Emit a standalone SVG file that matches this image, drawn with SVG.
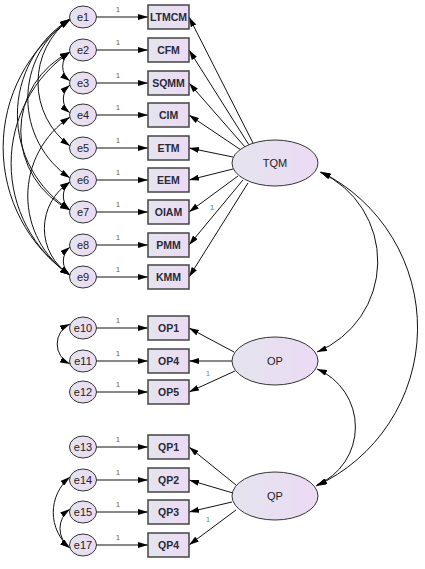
<svg xmlns="http://www.w3.org/2000/svg" width="425" height="569" viewBox="0 0 425 569">
<defs>
<linearGradient id="g" x1="0" y1="0" x2="1" y2="0"><stop offset="0" stop-color="#e4e4ee"/><stop offset="1" stop-color="#ecdaf4"/></linearGradient>
<marker id="ah" viewBox="0 0 10 6" refX="10" refY="3" markerWidth="10" markerHeight="6" markerUnits="userSpaceOnUse" orient="auto-start-reverse"><path d="M0,0 L10,3 L0,6 z" fill="#000"/></marker>
</defs>
<style>
.box{fill:url(#g);stroke:#444;stroke-width:1.5}
.err{fill:url(#g);stroke:#333;stroke-width:1}
.lat{fill:url(#g);stroke:#333;stroke-width:1}
.t{font-family:"Liberation Sans",Arial,sans-serif;font-size:10.5px;font-weight:bold;fill:#2a2a3a;text-anchor:middle}
.te{font-family:"Liberation Sans",Arial,sans-serif;font-size:11px;fill:#222;text-anchor:middle}
.tl{font-family:"Liberation Sans",Arial,sans-serif;font-size:11px;fill:#222;text-anchor:middle}
.one{font-family:"Liberation Sans",Arial,sans-serif;font-size:8px;fill:#776633;text-anchor:middle}
.ln{stroke:#111;stroke-width:1;fill:none;marker-end:url(#ah)}
.cv{stroke:#111;stroke-width:1;fill:none;marker-start:url(#ah);marker-end:url(#ah)}
</style>
<g id="connectors">
<path class="ln" d="M96 17H148"/><path class="ln" d="M96 50H148"/><path class="ln" d="M96 83H148"/>
<path class="ln" d="M96 115H148"/><path class="ln" d="M96 148H148"/><path class="ln" d="M96 180H148"/>
<path class="ln" d="M96 212H148"/><path class="ln" d="M96 245H148"/><path class="ln" d="M96 277H148"/>
<path class="ln" d="M96 328H148"/><path class="ln" d="M96 361H148"/><path class="ln" d="M96 392H148"/>
<path class="ln" d="M96 447H148"/><path class="ln" d="M96 480H148"/><path class="ln" d="M96 512H148"/><path class="ln" d="M96 545H148"/>
<path class="ln" d="M253 143L189 17"/><path class="ln" d="M249 145L189 50"/><path class="ln" d="M245 147L189 83"/>
<path class="ln" d="M241 150L189 115"/><path class="ln" d="M233 157L189 148"/><path class="ln" d="M233 169L189 180"/>
<path class="ln" d="M238 176L189 212"/><path class="ln" d="M243 180L189 245"/><path class="ln" d="M248 183L189 277"/>
<path class="ln" d="M234 352L189 328"/><path class="ln" d="M232 361L189 361"/><path class="ln" d="M235 371L189 392"/>
<path class="ln" d="M236 485L189 447"/><path class="ln" d="M233 493L189 480"/><path class="ln" d="M232 502L189 512"/><path class="ln" d="M236 510L189 545"/>
<path class="cv" d="M320 172A98 98 0 0 1 317 352"/>
<path class="cv" d="M321 172A174 174 0 0 1 316 486"/>
<path class="cv" d="M317 369A63 63 0 0 1 317 485"/>
<path class="cv" d="M70 19A79 79 0 0 0 70 146"/>
<path class="cv" d="M70 19A96 96 0 0 0 70 178"/>
<path class="cv" d="M70 19A113 113 0 0 0 70 210"/>
<path class="cv" d="M70 20A155 155 0 0 0 70 275"/>
<path class="cv" d="M70 52A135 135 0 0 0 70 275"/>
<path class="cv" d="M70 52A88 88 0 0 0 70 210"/>
<path class="cv" d="M70 117A95 95 0 0 0 70 275"/>
<path class="cv" d="M70 182A55 55 0 0 0 70 275"/>
<path class="cv" d="M70 52A18 18 0 0 0 70 81"/>
<path class="cv" d="M70 85A18 18 0 0 0 70 113"/>
<path class="cv" d="M70 182A18 18 0 0 0 70 210"/>
<path class="cv" d="M70 247A18 18 0 0 0 70 275"/>
<path class="cv" d="M70 324A22 22 0 0 0 70 364"/>
<path class="cv" d="M70 477A46 46 0 0 0 70 548"/>
<path class="cv" d="M70 509A24 24 0 0 0 70 548"/>
</g>
<g id="labels1">
<text class="one" x="118" y="12">1</text><text class="one" x="118" y="45">1</text><text class="one" x="118" y="78">1</text>
<text class="one" x="118" y="110">1</text><text class="one" x="118" y="143">1</text><text class="one" x="118" y="175">1</text>
<text class="one" x="118" y="207">1</text><text class="one" x="118" y="240">1</text><text class="one" x="118" y="272">1</text>
<text class="one" x="118" y="323">1</text><text class="one" x="118" y="356">1</text><text class="one" x="118" y="387">1</text>
<text class="one" x="118" y="442">1</text><text class="one" x="118" y="475">1</text><text class="one" x="118" y="507">1</text><text class="one" x="118" y="540">1</text>
<text class="one" x="212" y="210" style="fill:#3a7ac0">1</text>
<text class="one" x="208" y="376" style="fill:#888">1</text>
<text class="one" x="208" y="522" style="fill:#6a9a3a">1</text>
</g>
<g id="e1"><ellipse class="err" cx="83" cy="17" rx="13.5" ry="11"/><text class="te" x="83" y="21">e1</text></g>
<g id="e2"><ellipse class="err" cx="83" cy="50" rx="13.5" ry="11"/><text class="te" x="83" y="54">e2</text></g>
<g id="e3"><ellipse class="err" cx="83" cy="83" rx="13.5" ry="11"/><text class="te" x="83" y="87">e3</text></g>
<g id="e4"><ellipse class="err" cx="83" cy="115" rx="13.5" ry="11"/><text class="te" x="83" y="119">e4</text></g>
<g id="e5"><ellipse class="err" cx="83" cy="148" rx="13.5" ry="11"/><text class="te" x="83" y="152">e5</text></g>
<g id="e6"><ellipse class="err" cx="83" cy="180" rx="13.5" ry="11"/><text class="te" x="83" y="184">e6</text></g>
<g id="e7"><ellipse class="err" cx="83" cy="212" rx="13.5" ry="11"/><text class="te" x="83" y="216">e7</text></g>
<g id="e8"><ellipse class="err" cx="83" cy="245" rx="13.5" ry="11"/><text class="te" x="83" y="249">e8</text></g>
<g id="e9"><ellipse class="err" cx="83" cy="277" rx="13.5" ry="11"/><text class="te" x="83" y="281">e9</text></g>
<g id="e10"><ellipse class="err" cx="83" cy="328" rx="13.5" ry="11"/><text class="te" x="83" y="332">e10</text></g>
<g id="e11"><ellipse class="err" cx="83" cy="361" rx="13.5" ry="11"/><text class="te" x="83" y="365">e11</text></g>
<g id="e12"><ellipse class="err" cx="83" cy="392" rx="13.5" ry="11"/><text class="te" x="83" y="396">e12</text></g>
<g id="e13"><ellipse class="err" cx="83" cy="447" rx="13.5" ry="11"/><text class="te" x="83" y="451">e13</text></g>
<g id="e14"><ellipse class="err" cx="83" cy="480" rx="13.5" ry="11"/><text class="te" x="83" y="484">e14</text></g>
<g id="e15"><ellipse class="err" cx="83" cy="512" rx="13.5" ry="11"/><text class="te" x="83" y="516">e15</text></g>
<g id="e17"><ellipse class="err" cx="83" cy="545" rx="13.5" ry="11"/><text class="te" x="83" y="549">e17</text></g>
<g id="LTMCM"><rect class="box" x="148" y="5" width="41" height="24"/><text class="t" x="168.5" y="21">LTMCM</text></g>
<g id="CFM"><rect class="box" x="148" y="38" width="41" height="24"/><text class="t" x="168.5" y="54">CFM</text></g>
<g id="SQMM"><rect class="box" x="148" y="71" width="41" height="24"/><text class="t" x="168.5" y="87">SQMM</text></g>
<g id="CIM"><rect class="box" x="148" y="103" width="41" height="24"/><text class="t" x="168.5" y="119">CIM</text></g>
<g id="ETM"><rect class="box" x="148" y="136" width="41" height="24"/><text class="t" x="168.5" y="152">ETM</text></g>
<g id="EEM"><rect class="box" x="148" y="168" width="41" height="24"/><text class="t" x="168.5" y="184">EEM</text></g>
<g id="OIAM"><rect class="box" x="148" y="200" width="41" height="24"/><text class="t" x="168.5" y="216">OIAM</text></g>
<g id="PMM"><rect class="box" x="148" y="233" width="41" height="24"/><text class="t" x="168.5" y="249">PMM</text></g>
<g id="KMM"><rect class="box" x="148" y="265" width="41" height="24"/><text class="t" x="168.5" y="281">KMM</text></g>
<g id="OP1"><rect class="box" x="148" y="316" width="41" height="24"/><text class="t" x="168.5" y="332">OP1</text></g>
<g id="OP4"><rect class="box" x="148" y="349" width="41" height="24"/><text class="t" x="168.5" y="365">OP4</text></g>
<g id="OP5"><rect class="box" x="148" y="380" width="41" height="24"/><text class="t" x="168.5" y="396">OP5</text></g>
<g id="QP1"><rect class="box" x="148" y="435" width="41" height="24"/><text class="t" x="168.5" y="451">QP1</text></g>
<g id="QP2"><rect class="box" x="148" y="468" width="41" height="24"/><text class="t" x="168.5" y="484">QP2</text></g>
<g id="QP3"><rect class="box" x="148" y="500" width="41" height="24"/><text class="t" x="168.5" y="516">QP3</text></g>
<g id="QP4"><rect class="box" x="148" y="533" width="41" height="24"/><text class="t" x="168.5" y="549">QP4</text></g>
<g id="TQM"><ellipse class="lat" cx="275" cy="163" rx="43" ry="23"/><text class="tl" x="275" y="167">TQM</text></g>
<g id="OP"><ellipse class="lat" cx="275" cy="361" rx="43" ry="24"/><text class="tl" x="275" y="365">OP</text></g>
<g id="QP"><ellipse class="lat" cx="275" cy="496" rx="43" ry="24"/><text class="tl" x="275" y="500">QP</text></g>
</svg>
